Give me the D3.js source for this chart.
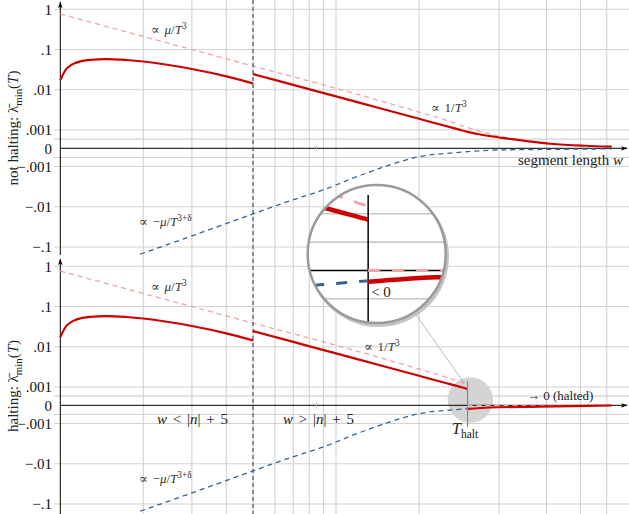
<!DOCTYPE html>
<html>
<head>
<meta charset="utf-8">
<script src="https://cdn.jsdelivr.net/npm/d3@7"></script>
<style>
  body { margin: 0; background: #fff; }
  svg { display: block; font-family: "Liberation Serif", "DejaVu Serif", serif; }
</style>
</head>
<body>
<svg id="chart" width="629" height="514"></svg>
<script>
// values
var yTicks = [1, 0.1, 0.01, 0.001, 0, -0.001, -0.01, -0.1];
var yTickLabels = ["1", ".1", ".01", ".001", "0", "\u2212.001", "\u2212.01", "\u2212.1"];
var yGridExtra = [0.0005, -0.0005];
var xGrid = [2, 3, 4, 5, 6, 7, 8, 9, 10, 20, 39, 58, 77, 96];
var xMinorTick = 8.5;
var wSplit = 5;      // w = |n| + 5
var wHalt = 30;      // T_halt

// red: lambda_min, before and after w = |n|+5
var redW1 = [1, 1.055, 1.15, 1.28, 1.47, 1.74, 2, 3, 4, 5];
var redV1 = [0.0174, 0.034, 0.048, 0.0555, 0.0581, 0.0549, 0.0504, 0.0328, 0.0216, 0.01447];
var redW2 = [5, 7, 10, 15, 20, 25, 28, 30, 33, 40, 50, 60, 80, 100];
var redV2 = [0.0246, 0.0132, 0.00684, 0.00323, 0.0019, 0.00126, 0.00102, 0.0009, 0.00077, 0.00057, 0.00038, 0.00025, 0.00014, 0.00009];
// pink: mu / T^3
var muW = [1, 5, 10, 20, 25, 30, 35, 40, 50];
var muV = [0.763, 0.0389, 0.01087, 0.0028, 0.00177, 0.00115, 0.00084, 0.00063, 0.0004];
// blue: -mu / T^(3+delta)
var negW = [1.95, 3, 5, 6.8, 9, 11.9, 15.7, 20, 27, 39, 60, 100];
var negV = [-0.15, -0.053, -0.015, -0.0071, -0.0038, -0.00178, -0.00091, -0.00046, -0.00024, -0.00009, -0.00006, -0.00003];
// halting case, after T_halt
var haltW = [30, 36, 55, 100];
var haltV = [-0.0002, -0.00012, -0.00007, -0.00001];
var zeroW = [30, 100];
var zeroV = [0, 0];

var svg = d3.select("#chart");
var defs = svg.append("defs");

defs.append("marker").attr("id", "arr")
    .attr("viewBox", "0 0 8 6").attr("refX", 7).attr("refY", 3)
    .attr("markerWidth", 7).attr("markerHeight", 5.5)
    .attr("markerUnits", "userSpaceOnUse").attr("orient", "auto")
  .append("path").attr("d", "M0,0.5 L8,3 L0,5.5 L2,3 z").attr("fill", "#000");

// x: log scale in w
var x = d3.scaleLog().domain([1, 100]).range([60.3, 611.7]);

// y: log decades with a linear strip around zero
var LIN = 0.454;
function tr(v) {
  var a = Math.abs(v);
  var t = a < 1e-3 ? a / 1e-3 * LIN : LIN + Math.log10(a / 1e-3);
  return v < 0 ? -t : t;
}
function yScale(off) {
  var s = d3.scaleLinear().domain([-(LIN + 3), LIN + 3]).range([287.3 + off, 9.3 + off]);
  return function(v) { return s(tr(v)); };
}

var red = {c: "#cc0000", w: 2.2},
    pink = {c: "#f2a3a3", w: 1.3, dash: "5,4"},
    blue = {c: "#37648f", w: 1.3, dash: "5,4"};

function curve(g, X, Y, ws, vs, st, clip) {
  var pts = ws.map(function(w, i) { return [w, vs[i]]; });
  var p = g.append("path").datum(pts)
      .attr("d", d3.line().x(function(d) { return X(d[0]); })
                          .y(function(d) { return Y(d[1]); })
                          .curve(d3.curveMonotoneX))
      .attr("fill", "none")
      .attr("stroke", st.c)
      .attr("stroke-width", st.w);
  if (st.dash) p.attr("stroke-dasharray", st.dash);
  if (clip) p.attr("clip-path", "url(#" + clip + ")");
  return p;
}

// text with italic / sup / sub pieces
function math(sel, parts, size) {
  var cur = 0;
  parts.forEach(function(p) {
    var t = sel.append("tspan").text(p.t);
    var target = p.sup ? -0.42 * size : (p.sub ? 0.28 * size : 0);
    if (target !== cur) { t.attr("dy", target - cur); cur = target; }
    if (p.i) t.attr("font-style", "italic");
    if (p.sup || p.sub) t.attr("font-size", size * 0.72);
  });
  return sel;
}
function label(g, px, py, parts, size, anchor, col) {
  var t = g.append("text").attr("x", px).attr("y", py)
      .attr("font-size", size).attr("fill", col || "#222")
      .attr("text-anchor", anchor || "start");
  return math(t, parts, size);
}

function panel(off, halted) {
  var y = yScale(off);
  var g = svg.append("g");

  // grid
  g.selectAll(".vg").data(xGrid).join("line")
      .attr("x1", function(d) { return x(d); }).attr("x2", function(d) { return x(d); })
      .attr("y1", off).attr("y2", off + 257)
      .attr("stroke", "#d2d2d2").attr("stroke-width", 1.1);
  g.selectAll(".hg").data(yTicks.filter(function(d) { return d !== 0; }).concat(yGridExtra)).join("line")
      .attr("x1", 54).attr("x2", 629)
      .attr("y1", function(d) { return y(d); }).attr("y2", function(d) { return y(d); })
      .attr("stroke", "#d2d2d2").attr("stroke-width", 1.1);

  if (halted) {
    g.append("circle").attr("cx", 470.3).attr("cy", 400).attr("r", 22.7).attr("fill", "#d4d4d4");
  }

  // tick labels
  g.selectAll(".tl").data(yTicks).join("text")
      .attr("x", 52).attr("y", function(d) { return y(d); }).attr("dy", "0.35em")
      .attr("text-anchor", "end").attr("font-size", 15).attr("fill", "#111")
      .text(function(d, i) { return yTickLabels[i]; });

  // axes
  g.append("line").attr("x1", 60.3).attr("x2", 627).attr("y1", y(0)).attr("y2", y(0))
      .attr("stroke", "#000").attr("stroke-width", 1).attr("marker-end", "url(#arr)");
  g.append("line").attr("x1", 60.3).attr("x2", 60.3).attr("y1", off + (halted ? 257 : 255)).attr("y2", off + 2)
      .attr("stroke", "#000").attr("stroke-width", 1).attr("marker-end", "url(#arr)");
  g.append("line").attr("x1", x(xMinorTick)).attr("x2", x(xMinorTick))
      .attr("y1", y(0) - 2.5).attr("y2", y(0) + 3)
      .attr("stroke", "#bbb").attr("stroke-width", 1);

  // curves
  var clip = halted ? "haltclip" : null;
  curve(g, x, y, muW, muV, pink, clip);
  curve(g, x, y, negW, negV, blue, clip);
  curve(g, x, y, redW1, redV1, red, clip);
  curve(g, x, y, redW2, redV2, red, clip);
  if (halted) {
    curve(g, x, y, zeroW, zeroV, pink);
    curve(g, x, y, haltW, haltV, red);
    g.append("line").attr("x1", x(wHalt)).attr("x2", x(wHalt)).attr("y1", 381).attr("y2", 427)
        .attr("stroke", "#888").attr("stroke-width", 1.2);
  }

  // annotations
  label(g, 151, off + 34, [{t: "\u221D "}, {t: "\u03BC", i: 1}, {t: "/"}, {t: "T", i: 1}, {t: "3", sup: 1}], 13, "start", "#333")
      .attr("word-spacing", 1.5);
  label(g, 139, off + 226, [{t: "\u221D \u2212"}, {t: "\u03BC", i: 1}, {t: "/"}, {t: "T", i: 1}, {t: "3+\u03B4", sup: 1}], 13, "start", "#333")
      .attr("word-spacing", 1.5);
  return y;
}

defs.append("clipPath").attr("id", "haltclip")
  .append("rect").attr("x", 0).attr("y", 257).attr("width", x(wHalt)).attr("height", 257);

var yTop = panel(0, false);
var yBot = panel(257, true);

// separator at w = |n| + 5
svg.append("line").attr("x1", x(wSplit)).attr("x2", x(wSplit)).attr("y1", 0).attr("y2", 514)
    .attr("stroke", "#555").attr("stroke-width", 1.2).attr("stroke-dasharray", "4,3");

// labels
label(svg, 431, 112, [{t: "\u221D 1/"}, {t: "T", i: 1}, {t: "3", sup: 1}], 13, "start", "#333").attr("word-spacing", 1.5);
label(svg, 364, 351, [{t: "\u221D 1/"}, {t: "T", i: 1}, {t: "3", sup: 1}], 13, "start", "#333").attr("word-spacing", 1.5);
label(svg, 623, 165, [{t: "segment length "}, {t: "w", i: 1}], 15, "end", "#222");
label(svg, 157, 424, [{t: "w", i: 1}, {t: " < |"}, {t: "n", i: 1}, {t: "| + 5"}], 15, "start", "#222").attr("word-spacing", 2);
label(svg, 283, 424, [{t: "w", i: 1}, {t: " > |"}, {t: "n", i: 1}, {t: "| + 5"}], 15, "start", "#222").attr("word-spacing", 2);
label(svg, 527, 400, [{t: "\u2192 0 (halted)"}], 13, "start", "#222");
label(svg, 452, 434, [{t: "T", i: 1}, {t: "halt", sub: 1}], 16, "start", "#222");

// y titles
[[128, "not halting: "], [386, "halting: "]].forEach(function(d) {
  var t = svg.append("text").attr("transform", "translate(18," + d[0] + ") rotate(-90)")
      .attr("text-anchor", "middle").attr("font-size", 15).attr("fill", "#222");
  math(t, [{t: d[1] + "\u03BB\u0304"}, {t: "min", sub: 1}, {t: "("}, {t: "T", i: 1}, {t: ")"}], 15);
});

// connector to magnifier
svg.append("line").attr("x1", 415).attr("y1", 313.3).attr("x2", 464.3).attr("y2", 383.3)
    .attr("stroke", "#aaa").attr("stroke-width", 0.8);

// magnifier around T_halt
var MC = {x: 376.7, y: 254, r: 69}, SRC = {x: 470.3, y: 400}, K = 3.1;
function mx(w) { return MC.x + K * (x(w) - SRC.x); }
function myv(v) { return MC.y + K * (yBot(v) - SRC.y); }

defs.append("clipPath").attr("id", "magclip")
  .append("circle").attr("cx", MC.x).attr("cy", MC.y).attr("r", MC.r);
defs.append("clipPath").attr("id", "maghalt")
  .append("rect").attr("x", 0).attr("y", 0).attr("width", mx(wHalt)).attr("height", 514);

svg.append("circle").attr("cx", MC.x + 1.8).attr("cy", MC.y + 2.5).attr("r", MC.r + 1.5)
    .attr("fill", "#c4c4c4");
svg.append("circle").attr("cx", MC.x).attr("cy", MC.y).attr("r", MC.r).attr("fill", "#fff");

var mg = svg.append("g").attr("clip-path", "url(#magclip)");
mg.selectAll(".mgl").data([0.001, 0.0005, -0.0005, -0.001]).join("line")
    .attr("x1", MC.x - MC.r).attr("x2", MC.x + MC.r)
    .attr("y1", function(d) { return myv(d); }).attr("y2", function(d) { return myv(d); })
    .attr("stroke", "#c8c8c8").attr("stroke-width", 1.6);
mg.append("line").attr("x1", MC.x - MC.r).attr("x2", MC.x + MC.r)
    .attr("y1", myv(0)).attr("y2", myv(0)).attr("stroke", "#000").attr("stroke-width", 1.5);
mg.append("line").attr("x1", mx(wHalt)).attr("x2", mx(wHalt))
    .attr("y1", MC.y + K * (381 - SRC.y)).attr("y2", MC.y + K * (427 - SRC.y))
    .attr("stroke", "#000").attr("stroke-width", 1.5);
var mpink = {c: pink.c, w: 3, dash: "12,12"},
    mblue = {c: blue.c, w: 3, dash: "11,12"},
    mred = {c: red.c, w: 4.5};
curve(mg, mx, myv, muW, muV, mpink, "maghalt");
curve(mg, mx, myv, negW, negV, mblue, "maghalt");
curve(mg, mx, myv, redW2, redV2, mred, "maghalt");
curve(mg, mx, myv, zeroW, zeroV, mpink);
curve(mg, mx, myv, haltW, haltV, mred);
label(mg, mx(wHalt) + 3, myv(0) + 27, [{t: "< 0"}], 15, "start", "#222");

svg.append("circle").attr("cx", MC.x).attr("cy", MC.y).attr("r", MC.r)
    .attr("fill", "none").attr("stroke", "#9a9a9a").attr("stroke-width", 2.5);
</script>
</body>
</html>
